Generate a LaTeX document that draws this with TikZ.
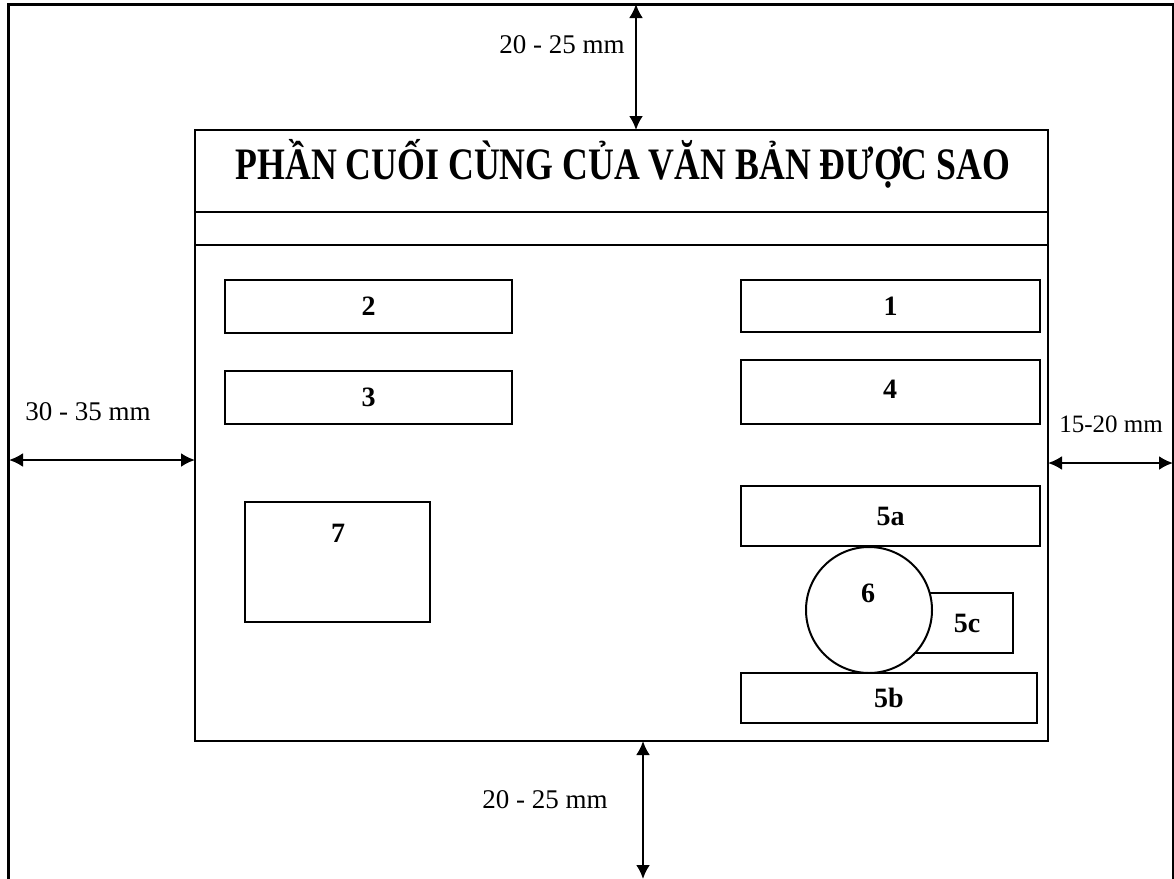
\documentclass[tikz,border=0pt]{standalone}
\usepackage{fontspec}
\setmainfont{Liberation Serif}
\usepackage{graphicx}
\usetikzlibrary{arrows.meta,positioning}

\begin{document}
\begin{tikzpicture}[
  x=0.5pt, y=-0.5pt,
  every node/.style={inner sep=0pt, outer sep=0pt},
  box/.style={rectangle, draw, line width=1pt, fill=white, font=\fontsize{14}{16}\selectfont\bfseries},
  lbl/.style={font=\fontsize{14}{16}\selectfont\bfseries},
  dim/.style={font=\fontsize{13.5}{15}\selectfont},
  dimarrow/.style={{Latex[length=7pt,width=7pt]}-{Latex[length=7pt,width=7pt]}, line width=1.2pt}
]
\useasboundingbox (0,0) rectangle (1174,879);

% khung giay
\draw[line width=1.5pt] (8,879) -- (8,4) -- (1173,4) -- (1173,879);

% trang
\node[box, minimum width=426.5pt, minimum height=305.5pt] (page) at (621.5,435.5) {};
\draw[line width=1pt] (195,212) -- (1048,212);
\draw[line width=1pt] (195,245) -- (1048,245);
\node[font=\fontsize{22.5}{26}\selectfont\bfseries] (title) at (623,164)
  {\scalebox{0.795}[1]{PHẦN CUỐI CÙNG CỦA VĂN BẢN ĐƯỢC SAO}};

% ben trai
\node[box, minimum width=143.5pt, minimum height=26.5pt] (b2) at (368.5,306) {2};
\node[box, minimum width=143.5pt, minimum height=26.5pt] (b3) at (368.5,397.5) {3};
\node[box, minimum width=92.5pt, minimum height=60pt] (b7) at (337,562) {};
\node[lbl] (l7) at (338,533) {7};

% ben phai
\node[box, minimum width=149.5pt, minimum height=26pt] (b1) at (890.5,306) {1};
\node[box, minimum width=149.5pt, minimum height=32pt] (b4) at (890.5,392) {};
\node[lbl] (l4) at (890,389) {4};
\node[box, minimum width=149.5pt, minimum height=30pt] (b5a) at (890.5,516) {5a};
\node[box, minimum width=54pt, minimum height=30pt] (b5c) at (959,623) {};
\node[lbl] (l5c) at (967,623) {5c};
\node[circle, draw, line width=1pt, fill=white, minimum size=63pt] (c6) at (869,610) {};
\node[lbl] (l6) at (868,593) {6};
\node[box, minimum width=148pt, minimum height=25pt] (b5b) at (889,698) {5b};

% le
\coordinate (ftop) at (636,4);
\coordinate (fbot) at (643,879);
\coordinate (fleft) at (9,460);
\coordinate (fright) at (1173,463);
\draw[dimarrow] (ftop) -- (page.north -| ftop);
\draw[dimarrow] (page.south -| fbot) -- (fbot);
\draw[dimarrow] (fleft) -- (page.west |- fleft);
\draw[dimarrow] (page.east |- fright) -- (fright);
\node[dim] (mtop) at (562,45) {20 - 25 mm};
\node[dim] (mbot) at (545,800) {20 - 25 mm};
\node[dim] (mleft) at (88,412) {30 - 35 mm};
\node[dim, font=\fontsize{12.5}{14}\selectfont] (mright) at (1111,424) {15-20 mm};

\end{tikzpicture}
\end{document}
